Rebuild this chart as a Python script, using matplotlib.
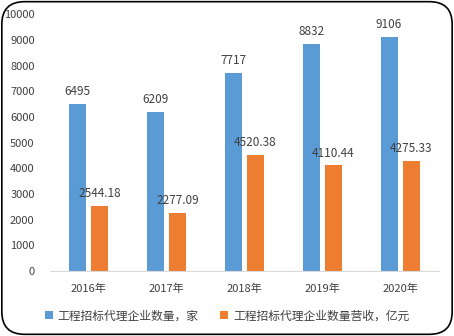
import numpy as np
import matplotlib
matplotlib.use("Agg")
import matplotlib.pyplot as plt
from matplotlib.patches import FancyBboxPatch

plt.rcParams['font.family'] = ['Noto Sans CJK SC', 'DejaVu Sans']

years = ["2016年", "2017年", "2018年", "2019年", "2020年"]
firms = [6495, 6209, 7717, 8832, 9106]
revenue = [2544.18, 2277.09, 4520.38, 4110.44, 4275.33]
firm_labels = ["6495", "6209", "7717", "8832", "9106"]
rev_labels = ["2544.18", "2277.09", "4520.38", "4110.44", "4275.33"]

blue = "#5b9bd5"
orange = "#ed7d31"
txt = "#404040"

fig = plt.figure(figsize=(4.54, 3.36), dpi=100)
ax = fig.add_axes([0.110, 0.193, 0.857, 0.765])

x = np.arange(len(years))
w = 0.22
off = 0.142
b1 = ax.bar(x - off, firms, w, color=blue, label="工程招标代理企业数量，家")
b2 = ax.bar(x + off, revenue, w, color=orange, label="工程招标代理企业数量营收，亿元")

for xi, v, s in zip(x, firms, firm_labels):
    ax.text(xi - off, v + 230, s, ha='center', va='bottom', fontsize=8.5, color=txt)
for xi, v, s in zip(x, revenue, rev_labels):
    ax.text(xi + off, v + 230, s, ha='center', va='bottom', fontsize=8.5, color=txt)

ax.set_xlim(-0.5, 4.5)
ax.set_ylim(0, 10000)
ax.set_yticks(np.arange(0, 10001, 1000))
ax.set_xticks(x)
ax.set_xticklabels(years)
ax.tick_params(axis='both', length=0, labelsize=8, colors=txt)
ax.tick_params(axis='x', pad=9)
ax.tick_params(axis='y', pad=11)
for s in ['top', 'right', 'left']:
    ax.spines[s].set_visible(False)
ax.spines['bottom'].set_color('#d9d9d9')

fig.legend(handles=[b1, b2], loc='center', bbox_to_anchor=(0.5, 0.06), ncol=2,
           frameon=False, fontsize=8.5, handlelength=0.7, handleheight=0.7,
           columnspacing=1.8, handletextpad=0.4, labelcolor=txt)

border = FancyBboxPatch((0.004, 0.005), 0.992, 0.99, boxstyle="round,pad=0,rounding_size=0.05",
                        transform=fig.transFigure, fill=False, edgecolor='black', linewidth=1.2,
                        mutation_aspect=454/336)
fig.patches.append(border)

fig.savefig("out.png", dpi=100)
